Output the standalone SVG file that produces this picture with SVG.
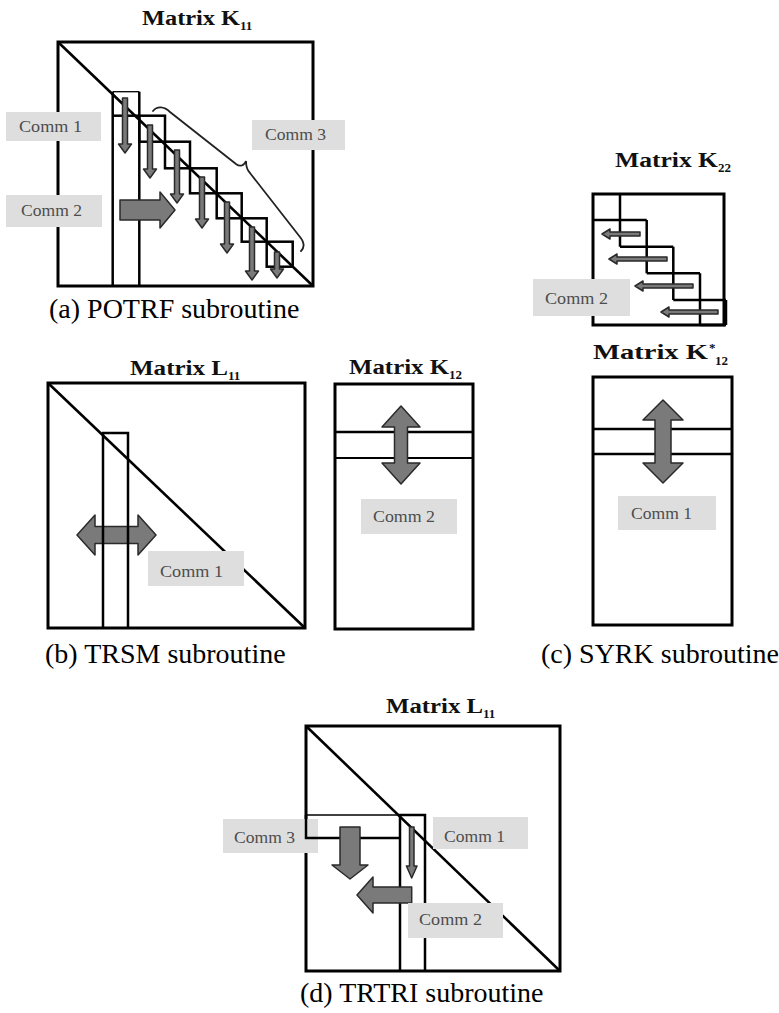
<svg xmlns="http://www.w3.org/2000/svg" width="779" height="1013" viewBox="0 0 779 1013">
<style>
.frame{fill:none;stroke:#000;stroke-width:3}
.thick{fill:none;stroke:#000;stroke-width:2.5}
.thin{fill:none;stroke:#000;stroke-width:1.3}
.diag{stroke:#000;stroke-width:2.6;fill:none}
.lbl{fill:#dedede}
.lt{font-family:"Liberation Serif",serif;font-size:17px;fill:#4d4d4d}
.title{font-family:"Liberation Serif",serif;font-weight:bold;font-size:20px;fill:#111}
.sub{font-family:"Liberation Serif",serif;font-weight:bold;font-size:13px;fill:#111}
.cap{font-family:"Liberation Serif",serif;font-size:28px;fill:#000}
.arr{fill:#7a7a7a;stroke:#2a2a2a;stroke-width:1.5;stroke-linejoin:round}
.brace{fill:none;stroke:#222;stroke-width:1.8;stroke-linecap:round}
</style>
<rect width="779" height="1013" fill="#fff"/>

<g id="potrf">
  <text class="title" x="142" y="25" textLength="98" lengthAdjust="spacingAndGlyphs">Matrix K</text>
  <text class="sub" x="240" y="30">11</text>
  <rect class="frame" x="58" y="42" width="255" height="244"/>
  <line class="diag" x1="58" y1="42" x2="313" y2="286"/>
  <line class="thick" x1="112.7" y1="91.7" x2="112.7" y2="286"/>
  <line class="thick" x1="139.3" y1="91.7" x2="139.3" y2="286"/>
  <line class="thin" x1="112.7" y1="91.7" x2="139.3" y2="91.7"/>
  <line class="thick" x1="112.7" y1="115.7" x2="139.3" y2="115.7"/>
  <rect class="thick" x="139.3" y="115.7" width="25.7" height="26"/>
  <rect class="thick" x="165" y="141.7" width="25" height="26.6"/>
  <rect class="thick" x="190" y="168.3" width="26.7" height="25"/>
  <rect class="thick" x="216.7" y="193.3" width="25" height="25"/>
  <rect class="thick" x="241.7" y="218.3" width="25" height="23.4"/>
  <rect class="thick" x="266.7" y="241.7" width="26" height="25"/>
  <g id="potrf-arrows">
    <polygon class="arr" points="122.5,98 127.5,98 127.5,144 131.5,144 125,153 118.5,144 122.5,144"/>
    <polygon class="arr" points="147.5,125 152.5,125 152.5,169 156.5,169 150,178 143.5,169 147.5,169"/>
    <polygon class="arr" points="174.5,150 179.5,150 179.5,194 183.5,194 177,203 170.5,194 174.5,194"/>
    <polygon class="arr" points="199.5,177 204.5,177 204.5,219 208.5,219 202,228 195.5,219 199.5,219"/>
    <polygon class="arr" points="224.5,202 229.5,202 229.5,244 233.5,244 227,253 220.5,244 224.5,244"/>
    <polygon class="arr" points="249.5,227 254.5,227 254.5,271 258.5,271 252,280 245.5,271 249.5,271"/>
    <polygon class="arr" points="274.5,252 279.5,252 279.5,269 283.5,269 277,278 270.5,269 274.5,269"/>
    <polygon class="arr" points="120,200 160,200 160,192 175,210 160,228 160,220 120,220"/>
  </g>
  <path class="brace" d="M153,111 C157,106 164,106 170,112 L236,164 C240,167 244,166 246,161 C246,166 247,170 250,173 L300,237 C304,242 305,247 301,251"/>
  <rect class="lbl" x="6" y="112" width="95" height="29"/>
  <text class="lt" x="19" y="132" textLength="63" lengthAdjust="spacingAndGlyphs">Comm 1</text>
  <rect class="lbl" x="6" y="195" width="96" height="32"/>
  <text class="lt" x="21" y="216" textLength="61" lengthAdjust="spacingAndGlyphs">Comm 2</text>
  <rect class="lbl" x="252" y="120" width="93" height="30"/>
  <text class="lt" x="265" y="140" textLength="61" lengthAdjust="spacingAndGlyphs">Comm 3</text>
  <text class="cap" x="49" y="318">(a) POTRF subroutine</text>
</g>

<g id="k22">
  <text class="title" x="615" y="167" textLength="103" lengthAdjust="spacingAndGlyphs">Matrix K</text>
  <text class="sub" x="718" y="172">22</text>
  <rect class="frame" x="593" y="194" width="131" height="131"/>
  <path class="thick" d="M620,194 V246.7 M593,220 H646.7 M620,246.7 H673.3 M646.7,220 V273.3 M646.7,273.3 H700 M673.3,246.7 V300 M673.3,300 H726 M700,273.3 V325 M726,300 V325 M700,325 H726"/>
  <g id="k22-arrows">
    <polygon class="arr" points="640,232 610,232 610,229 602,234 610,239 610,236 640,236"/>
    <polygon class="arr" points="667,257 617,257 617,254 609,259 617,264 617,261 667,261"/>
    <polygon class="arr" points="693,284 643,284 643,281 635,286 643,291 643,288 693,288"/>
    <polygon class="arr" points="718,310 669,310 669,307 661,312 669,317 669,314 718,314"/>
  </g>
  <rect class="lbl" x="533" y="279" width="97" height="37"/>
  <text class="lt" x="545" y="304" textLength="63" lengthAdjust="spacingAndGlyphs">Comm 2</text>
</g>

<g id="trsm">
  <text class="title" x="130" y="375" textLength="98" lengthAdjust="spacingAndGlyphs">Matrix L</text>
  <text class="sub" x="228" y="380">11</text>
  <rect class="frame" x="48" y="383" width="257" height="245"/>
  <line class="diag" x1="48" y1="383" x2="305" y2="628"/>
  <polygon class="arr" points="77,535 95,515 95,526.5 138,526.5 138,515 156,535 138,555 138,543.5 95,543.5 95,555"/>
  <path class="thick" d="M103,628 V433 H128 V628"/>
  <rect class="lbl" x="148" y="551" width="96" height="35"/>
  <text class="lt" x="160" y="577" textLength="63" lengthAdjust="spacingAndGlyphs">Comm 1</text>
</g>

<g id="k12">
  <text class="title" x="349" y="374" textLength="100" lengthAdjust="spacingAndGlyphs">Matrix K</text>
  <text class="sub" x="449" y="379">12</text>
  <rect class="frame" x="335" y="384" width="138" height="245"/>
  <line class="thick" x1="335" y1="432" x2="473" y2="432"/>
  <line class="thin" x1="335" y1="458" x2="473" y2="458" style="stroke-width:1.8"/>
  <polygon class="arr" points="401,406 420,427 407.5,427 407.5,463 420,463 401,484 382,463 394.5,463 394.5,427 382,427"/>
  <rect class="lbl" x="361" y="499" width="96" height="35"/>
  <text class="lt" x="373" y="522" textLength="62" lengthAdjust="spacingAndGlyphs">Comm 2</text>
  <text class="cap" x="45" y="663">(b) TRSM subroutine</text>
</g>

<g id="syrk">
  <text class="title" x="593" y="359" textLength="115" lengthAdjust="spacingAndGlyphs">Matrix K</text>
  <text class="sub" x="709" y="352">*</text>
  <text class="sub" x="715" y="365">12</text>
  <rect class="frame" x="593" y="377" width="139" height="248"/>
  <line class="thick" x1="593" y1="429" x2="732" y2="429"/>
  <line class="thick" x1="593" y1="454" x2="732" y2="454"/>
  <polygon class="arr" points="663,400 683,420 671,420 671,463 683,463 663,483 643,463 655,463 655,420 643,420"/>
  <rect class="lbl" x="618" y="496" width="98" height="34"/>
  <text class="lt" x="631" y="519" textLength="61" lengthAdjust="spacingAndGlyphs">Comm 1</text>
  <text class="cap" x="541" y="663">(c) SYRK subroutine</text>
</g>

<g id="trtri">
  <text class="title" x="386" y="713" textLength="97" lengthAdjust="spacingAndGlyphs">Matrix L</text>
  <text class="sub" x="483" y="718">11</text>
  <rect class="frame" x="306" y="726" width="254" height="245"/>
  <line class="diag" x1="306" y1="726" x2="560" y2="971"/>
  <rect class="lbl" x="223" y="819" width="95" height="34"/>
  <text class="lt" x="234" y="843" textLength="61" lengthAdjust="spacingAndGlyphs">Comm 3</text>
  <line class="thin" x1="306" y1="815" x2="400" y2="815"/>
  <path class="thick" d="M306,815 V838 H400"/>
  <path class="thick" d="M400,971 V815 H425 V971"/>
  <g id="trtri-arrows">
    <polygon class="arr" points="340,827 360,827 360,865 368,865 350,879 332,865 340,865"/>
    <polygon class="arr" points="409.5,827 414,827 414,866 417,866 411.7,878 406.4,866 409.5,866"/>
    <polygon class="arr" points="411.7,887 373,887 373,877 357,895 373,913 373,903 411.7,903"/>
  </g>
  <rect class="lbl" x="433" y="817" width="95" height="32"/>
  <text class="lt" x="444" y="842" textLength="61" lengthAdjust="spacingAndGlyphs">Comm 1</text>
  <rect class="lbl" x="408" y="903" width="95" height="35"/>
  <text class="lt" x="419" y="925" textLength="63" lengthAdjust="spacingAndGlyphs">Comm 2</text>
  <text class="cap" x="300" y="1002">(d) TRTRI subroutine</text>
</g>
</svg>
